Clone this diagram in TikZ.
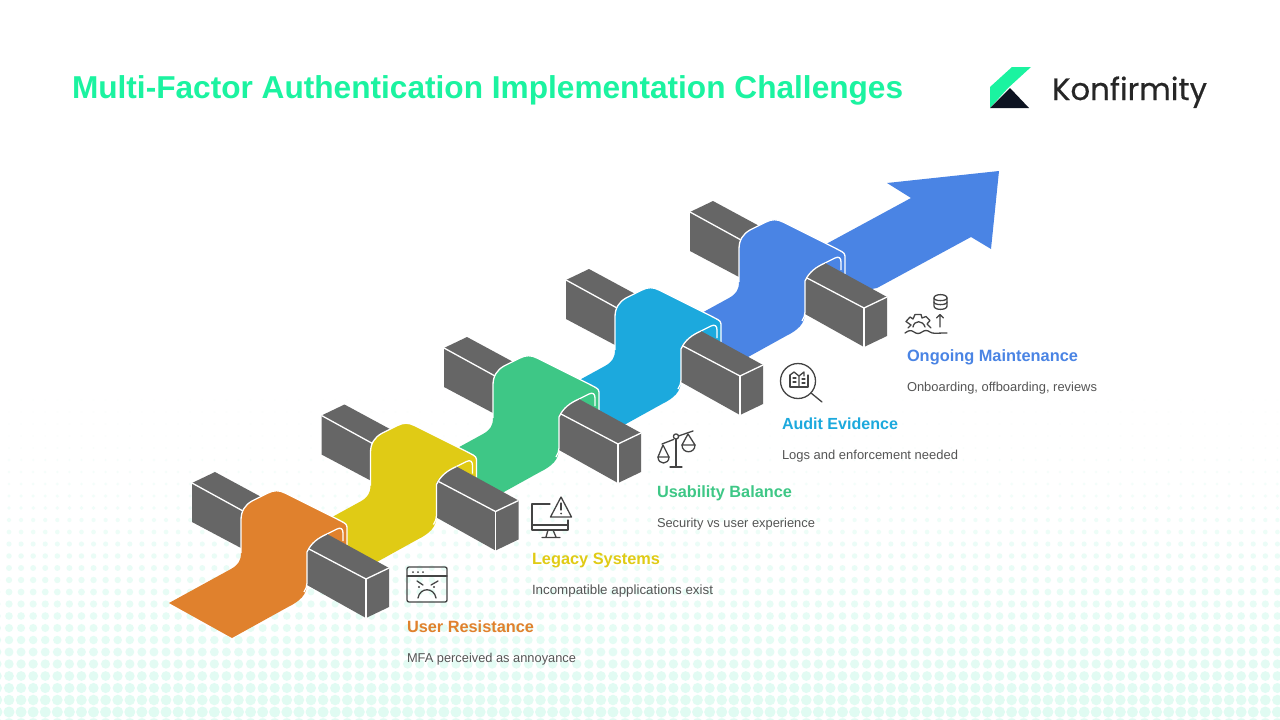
\documentclass[tikz,border=0pt]{standalone}
\usepackage{fontspec}
\usepackage{graphicx}
\setmainfont{Liberation Sans}
\newfontfamily\logofont[FakeBold=0.5]{Poppins}
\definecolor{cOrange}{HTML}{E0812D}
\definecolor{cYellow}{HTML}{E0CB15}
\definecolor{cGreen}{HTML}{3EC786}
\definecolor{cCyan}{HTML}{1CA9DD}
\definecolor{cBlue}{HTML}{4A84E4}
\definecolor{cBeam}{HTML}{666666}
\definecolor{cTitle}{HTML}{1BF3A0}
\definecolor{cMint}{HTML}{E0FBF2}
\definecolor{cText}{HTML}{555555}
\definecolor{cIcon}{HTML}{444444}
\definecolor{cLogo}{HTML}{0D1321}
\newcommand{\fitw}[2]{\resizebox{#1pt}{!}{#2}}
\tikzset{
  whiteline/.style={draw=white,line width=1.3pt,line cap=butt,line join=round},
  icon/.style={draw=cIcon,line width=1.3pt,line cap=round,line join=round,fill=none},
  lbl/.style={anchor=base west,inner sep=0pt,outer sep=0pt},
}
\newcommand{\ribbonunit}[3]{%
  \begin{scope}[shift={(#2,#3)}]
    \fill[cBeam] (192,483) -- (215,472) -- (265,499) -- (241,525) -- (241,548) -- (192,522) -- cycle;
    \draw[whiteline] (192,483) -- (243,511);
    \fill[#1] (169,603) -- (232,638) -- (288,607) .. controls (300,601) and (307,595) .. (307,583) -- (307,557) -- (347,557) -- (347,527) .. controls (347,523) and (342,522) .. (337,519) -- (285,493) .. controls (279,490) and (274,490) .. (268,493) -- (252,501) .. controls (245,505) and (241,511) .. (241,520) -- (241,553) .. controls (241,561) and (238,565) .. (231,569) -- cycle;
    \draw[whiteline] (241,553) -- (241,520) .. controls (241,511) and (245,505) .. (252,501) -- (268,493) .. controls (274,490) and (279,490) .. (285,493) -- (337,519) .. controls (342,522) and (347,523) .. (347,527) -- (347,545);
    \draw[whiteline] (343,541) -- (343,533) .. controls (343,529) and (341,527) .. (337,529) -- (327,534);
    \fill[cBeam] (307,550) .. controls (311,543) and (318,538) .. (327,534) -- (389,568) -- (389,607) -- (366,618) -- (307,585) -- cycle;
    \draw[whiteline] (304,592) .. controls (306,589) and (307,586) .. (307,583) -- (307,552) .. controls (311,543) and (318,538) .. (327,534);
    \draw[whiteline] (309,549) -- (366,579) -- (389,568);
    \draw[whiteline] (366,579) -- (366,618);
  \end{scope}}
\begin{document}
\begin{tikzpicture}[x=1pt,y=-1pt]
\useasboundingbox (0,0) rectangle (1280,720);
\fill[white] (0,0) rectangle (1280,720);
% dot field
\begin{scope}
\clip (0,0) rectangle (1280,720);
\foreach \r in {-1,0,...,26}{
  \pgfmathsetmacro{\yy}{712-12*\r}
  \pgfmathsetmacro{\rad}{max(0.7,1.4+(\yy-480)/232*4.1)}
  \pgfmathsetmacro{\pc}{\yy>=560 ? min(100,70+(\yy-560)/152*30) : 8+(\yy-400)/160*62}
  \fill[cMint!\pc!white] \foreach \c in {-1,0,...,106}{ (9+12.08*\c,\yy) ++(\rad,0) arc[start angle=0,end angle=360,radius=\rad] };
}
\end{scope}
% title and logo
\node[lbl,text=cTitle] (title) at (72,98) {\fitw{831}{\bfseries Multi-Factor Authentication Implementation Challenges}};
\fill[cTitle] (990,87) -- (1012,67) -- (1031,67) -- (1008,88) -- (990,108) -- cycle;
\fill[cLogo] (990,108) -- (1010,88) -- (1029,108) -- cycle;
\node[lbl,text=black!85] (logo) at (1052,100) {\fitw{155}{\logofont Konfirmity}};
% arrow
\fill[cBlue] (800,260) -- (828,243) -- (911,198) -- (887,183) -- (999,171) -- (991,249) -- (971,237) -- (877,288) -- (840,295) -- cycle;
% units, far to near
\ribbonunit{cBlue}{498}{-271}
\ribbonunit{cCyan}{374}{-203}
\ribbonunit{cGreen}{252}{-135}
\ribbonunit{cYellow}{129.5}{-67.5}
\ribbonunit{cOrange}{0}{0}
% labels
\node[lbl,text=cOrange] (t1) at (407,632) {\fitw{127}{\bfseries User Resistance}};
\node[lbl] (s1) at (407,662) {\fitw{169}{\color{cText}MFA perceived as annoyance}};
\node[lbl,text=cYellow] (t2) at (532,564.5) {\fitw{128}{\bfseries Legacy Systems}};
\node[lbl] (s2) at (532,594.5) {\fitw{181}{\color{cText}Incompatible applications exist}};
\node[lbl,text=cGreen] (t3) at (657,497) {\fitw{135}{\bfseries Usability Balance}};
\node[lbl] (s3) at (657,527) {\fitw{158}{\color{cText}Security vs user experience}};
\node[lbl,text=cCyan] (t4) at (782,429) {\fitw{116}{\bfseries Audit Evidence}};
\node[lbl] (s4) at (782,459) {\fitw{176}{\color{cText}Logs and enforcement needed}};
\node[lbl,text=cBlue] (t5) at (907,361.5) {\fitw{171}{\bfseries Ongoing Maintenance}};
\node[lbl] (s5) at (907,391.5) {\fitw{190}{\color{cText}Onboarding, offboarding, reviews}};
% icon 1: angry window
\draw[icon] (409,567) -- (445,567) .. controls (446.5,567) and (447,568) .. (447,569) -- (447,600) .. controls (447,601) and (446.5,602) .. (445,602) -- (409,602) .. controls (408,602) and (407,601) .. (407,600) -- (407,569) .. controls (407,568) and (408,567) .. (409,567) -- cycle;
\draw[icon] (407,576) -- (447,576);
\fill[cIcon] (413,572) circle (1) (418,572) circle (1) (423,572) circle (1) (419,587) circle (1.1) (434,587) circle (1.1);
\draw[icon] (417,581) -- (423,585) (438,581) -- (431,585);
\draw[icon] (418,598) .. controls (420,587) and (434,587) .. (436,598);
% icon 2: monitor and warning
\draw[icon] (550,504) -- (532,504) -- (532,530) -- (568,530) -- (568,520);
\draw[icon] (532,525) -- (568,525);
\draw[icon] (548,530) -- (546,537) (553,530) -- (556,537) (542,537.5) -- (560,537.5);
\draw[icon] (561,497) -- (550.5,517) -- (571.5,517) -- cycle;
\draw[icon] (561,503) -- (561,510);
\fill[cIcon] (561,513.5) circle (1);
% icon 3: scales
\draw[icon] (676,439) -- (676,467) (670,467) -- (682,467);
\draw[icon] (676,436.5) circle (2.6);
\draw[icon] (662,444) -- (673.5,439.5) (678.5,436) -- (693,431);
\draw[icon] (663,445) -- (658,457) -- (669,457) -- cycle;
\draw[icon] (658,457) .. controls (658,465) and (669,465) .. (669,457);
\draw[icon] (688,434) -- (682,445) -- (695,445) -- cycle;
\draw[icon] (682,445) .. controls (682,454) and (695,454) .. (695,445);
% icon 4: magnifier
\draw[icon] (798,381) circle (17.5);
\draw[icon] (811,393) -- (822,402);
\draw[icon] (790,375) -- (790,387) -- (808,387) -- (808,375);
\draw[icon] (790,375) -- (794,372) -- (799,376) -- (799,387);
\draw[icon] (799,376) -- (804,372) -- (804,376);
\draw[icon] (793,378) -- (796,378) (793,382) -- (796,382) (802,379) -- (805,379) (802,383) -- (805,383);
% icon 5: gear, arrow, database
\draw[icon] (934,298) .. controls (934,293.5) and (947,293.5) .. (947,298) -- (947,306) .. controls (947,310.5) and (934,310.5) .. (934,306) -- cycle;
\draw[icon] (934,298) .. controls (934,301.5) and (947,301.5) .. (947,298);
\draw[icon] (934,302) .. controls (934,305.5) and (947,305.5) .. (947,302);
\draw[icon] (940,327) -- (940,315) (936.5,318) -- (940,314.5) -- (943.5,318);
\draw[icon] (908,328) -- (911,325) -- (906,321.5) -- (910,317) -- (913,319) -- (915,314.5) -- (921,314.5) -- (922,318) -- (926,316.5) -- (930,320.5) -- (927,324) -- (931,328);
\draw[icon] (913,327) .. controls (914,320) and (923,320) .. (925,327);
\draw[icon] (905,333) .. controls (909,330) and (911,330) .. (914,332) .. controls (917,334) and (919,334) .. (922,332) .. controls (925,330) and (927,330) .. (930,332) .. controls (933,334) and (935,333) .. (947,333);
\end{tikzpicture}
\end{document}
